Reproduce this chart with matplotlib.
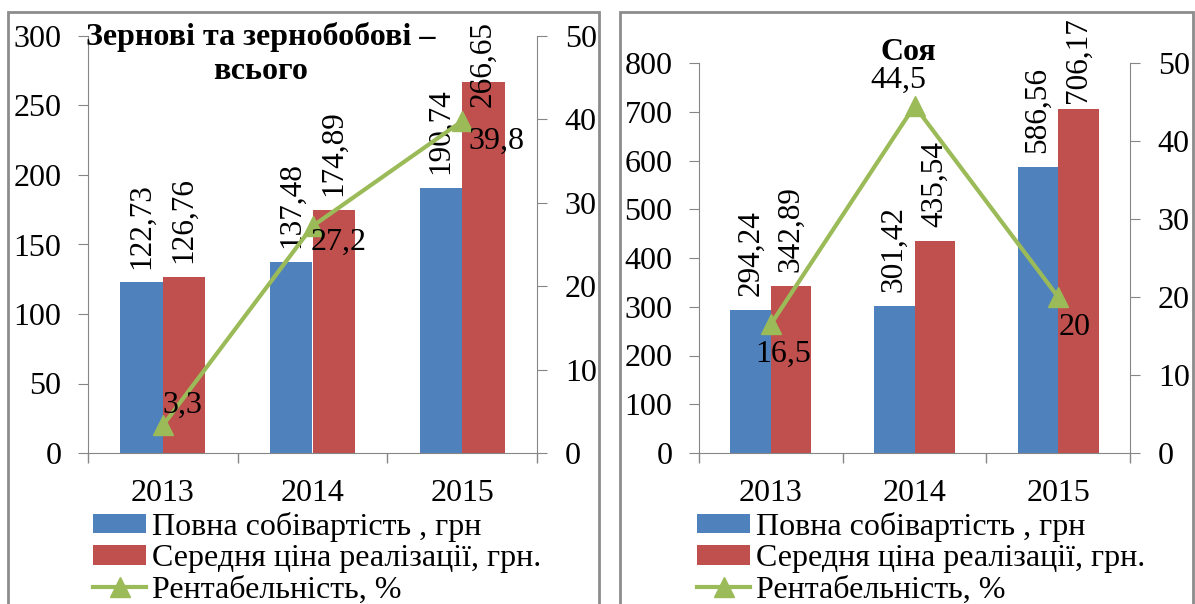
import matplotlib
matplotlib.use("Agg")
import matplotlib.pyplot as plt
from matplotlib.patches import Rectangle
import numpy as np

years = ["2013", "2014", "2015"]

grain_cost = [122.73, 137.48, 190.74]
grain_price = [126.76, 174.89, 266.65]
grain_profit = [3.3, 27.2, 39.8]

soy_cost = [294.24, 301.42, 586.56]
soy_price = [342.89, 435.54, 706.17]
soy_profit = [16.5, 44.5, 20]

cost_label = "Повна собівартість , грн"
price_label = "Середня ціна реалізації, грн."
profit_label = "Рентабельність, %"

BLUE, RED, GREEN = "#4F81BD", "#C0504D", "#9BBB59"
GRAY = "#868686"
W, H = 1195, 604
FS = 23

plt.rcParams["font.family"] = ["Liberation Serif", "DejaVu Serif"]


def px_axes(fig, x0, x1, ytop, ybot):
    return fig.add_axes([x0 / W, 1 - ybot / H, (x1 - x0) / W, (ybot - ytop) / H])


def panel(fig, box, title, title_xy, cost, price, profit, ymax, ystep,
          profit_offsets, price_gaps, legend_xy):
    ax = px_axes(fig, *box)
    x = np.arange(len(years))
    bw = 0.283
    b1 = ax.bar(x - bw / 2, cost, bw, color=BLUE, label=cost_label)
    b2 = ax.bar(x + bw / 2, price, bw, color=RED, label=price_label)
    # labels above bars; gap in points (the top one is pushed down to fit)
    for bars, vals, gaps in ((b1, cost, [10] * len(cost)),
                             (b2, price, price_gaps)):
        for r, v, g in zip(bars, vals, gaps):
            ax.annotate(f"{v:.2f}".replace(".", ","),
                        (r.get_x() + r.get_width() / 2, v),
                        textcoords="offset points", xytext=(0, g),
                        rotation=90, ha="center", va="bottom", fontsize=22.5)
    ax.set_xlim(-0.5, len(years) - 0.5)
    ax.set_ylim(0, ymax)
    ax.set_yticks(np.arange(0, ymax + 1, ystep))
    ax.set_xticks(np.arange(-0.5, len(years), 1.0))
    ax.set_xticklabels([])
    ax.set_xticks(x, minor=True)
    ax.set_xticklabels(years, minor=True)
    ax.tick_params(axis="x", which="minor", length=0, pad=19, labelsize=FS)
    ax.tick_params(axis="x", which="major", direction="out", length=7,
                   color=GRAY, width=1)
    ax.tick_params(axis="y", direction="out", length=7, color=GRAY,
                   labelsize=FS, pad=12)
    for s in ("top", "right"):
        ax.spines[s].set_visible(False)
    for s in ("left", "bottom"):
        ax.spines[s].set_color(GRAY)

    ax2 = ax.twinx()
    ln, = ax2.plot(x, profit, color=GREEN, lw=3, marker="^", ms=14,
                   label=profit_label)
    for xi, v, off in zip(x, profit, profit_offsets):
        ax2.annotate(f"{v:g}".replace(".", ","), (xi, v),
                     textcoords="offset points", xytext=off,
                     ha="center", va="center", fontsize=FS)
    ax2.set_ylim(0, 50)
    ax2.set_yticks(np.arange(0, 51, 10))
    ax2.tick_params(axis="y", direction="out", length=7, color=GRAY,
                    labelsize=FS, pad=13)
    for s in ("top", "left", "bottom"):
        ax2.spines[s].set_visible(False)
    ax2.spines["right"].set_color(GRAY)

    fig.text(title_xy[0] / W, 1 - title_xy[1] / H, title, ha="center",
             va="center", fontsize=FS, fontweight="bold", linespacing=1.2)

    ax.legend([b1, b2, ln], [cost_label, price_label, profit_label],
              loc="upper left",
              bbox_to_anchor=(legend_xy[0] / W, 1 - legend_xy[1] / H),
              bbox_transform=fig.transFigure, frameon=False,
              fontsize=FS, handlelength=1.66, handleheight=0.56,
              labelspacing=0.07, handletextpad=0.2, borderaxespad=0,
              borderpad=0)
    return ax


fig = plt.figure(figsize=(W / 100, H / 100), dpi=100)

for x0, x1 in ((8, 599), (620, 1193)):
    fig.add_artist(Rectangle((x0 / W, -0.05), (x1 - x0) / W, 1 - 12 / H + 0.05,
                             transform=fig.transFigure, fill=False,
                             ec="#8c8c8c", lw=2))

panel(fig, (88, 537, 36, 453), "Зернові та зернобобові –\nвсього", (261, 54),
      grain_cost, grain_price, grain_profit, 300, 50,
      [(14.4, 14.4), (18.7, -11.5), (24.5, -14.4)], [10, 10, -17.5],
      (93, 512))
panel(fig, (699, 1130, 63, 453), "Соя", (908, 52),
      soy_cost, soy_price, soy_profit, 800, 100,
      [(8.6, -21.6), (-11.5, 18.7), (12, -22)], [10, 10, 4.3],
      (697, 512))

fig.savefig("out.png", dpi=100)
